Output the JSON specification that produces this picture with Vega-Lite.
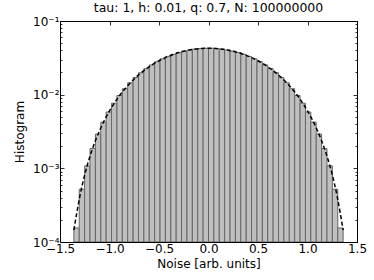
{
  "$schema": "https://vega.github.io/schema/vega-lite/v6.json",
  "autosize": {"type": "none"},
  "padding": {"left": 60, "top": 21, "right": 17, "bottom": 38},
  "width": 297,
  "height": 221,
  "title": {"text": "tau: 1, h: 0.01, q: 0.7, N: 100000000", "font": "DejaVu Sans", "fontSize": 12.5, "fontWeight": "normal", "color": "black", "offset": 1},
  "datasets": {
    "bins": [
      {"x0": -1.3600, "x1": -1.3056, "v": 0.000155},
      {"x0": -1.3056, "x1": -1.2512, "v": 0.00052},
      {"x0": -1.2512, "x1": -1.1968, "v": 0.00108},
      {"x0": -1.1968, "x1": -1.1424, "v": 0.00186},
      {"x0": -1.1424, "x1": -1.0880, "v": 0.00292},
      {"x0": -1.0880, "x1": -1.0336, "v": 0.00424},
      {"x0": -1.0336, "x1": -0.9792, "v": 0.00582},
      {"x0": -0.9792, "x1": -0.9248, "v": 0.00766},
      {"x0": -0.9248, "x1": -0.8704, "v": 0.00974},
      {"x0": -0.8704, "x1": -0.8160, "v": 0.01204},
      {"x0": -0.8160, "x1": -0.7616, "v": 0.01452},
      {"x0": -0.7616, "x1": -0.7072, "v": 0.01712},
      {"x0": -0.7072, "x1": -0.6528, "v": 0.01984},
      {"x0": -0.6528, "x1": -0.5984, "v": 0.02258},
      {"x0": -0.5984, "x1": -0.5440, "v": 0.02533},
      {"x0": -0.5440, "x1": -0.4896, "v": 0.02802},
      {"x0": -0.4896, "x1": -0.4352, "v": 0.03061},
      {"x0": -0.4352, "x1": -0.3808, "v": 0.03305},
      {"x0": -0.3808, "x1": -0.3264, "v": 0.03529},
      {"x0": -0.3264, "x1": -0.2720, "v": 0.03729},
      {"x0": -0.2720, "x1": -0.2176, "v": 0.03903},
      {"x0": -0.2176, "x1": -0.1632, "v": 0.04045},
      {"x0": -0.1632, "x1": -0.1088, "v": 0.04154},
      {"x0": -0.1088, "x1": -0.0544, "v": 0.04228},
      {"x0": -0.0544, "x1": 0.0000, "v": 0.04265},
      {"x0": 0.0000, "x1": 0.0544, "v": 0.04265},
      {"x0": 0.0544, "x1": 0.1088, "v": 0.04228},
      {"x0": 0.1088, "x1": 0.1632, "v": 0.04154},
      {"x0": 0.1632, "x1": 0.2176, "v": 0.04045},
      {"x0": 0.2176, "x1": 0.2720, "v": 0.03903},
      {"x0": 0.2720, "x1": 0.3264, "v": 0.03729},
      {"x0": 0.3264, "x1": 0.3808, "v": 0.03529},
      {"x0": 0.3808, "x1": 0.4352, "v": 0.03305},
      {"x0": 0.4352, "x1": 0.4896, "v": 0.03061},
      {"x0": 0.4896, "x1": 0.5440, "v": 0.02802},
      {"x0": 0.5440, "x1": 0.5984, "v": 0.02533},
      {"x0": 0.5984, "x1": 0.6528, "v": 0.02258},
      {"x0": 0.6528, "x1": 0.7072, "v": 0.01984},
      {"x0": 0.7072, "x1": 0.7616, "v": 0.01712},
      {"x0": 0.7616, "x1": 0.8160, "v": 0.01452},
      {"x0": 0.8160, "x1": 0.8704, "v": 0.01204},
      {"x0": 0.8704, "x1": 0.9248, "v": 0.00974},
      {"x0": 0.9248, "x1": 0.9792, "v": 0.00766},
      {"x0": 0.9792, "x1": 1.0336, "v": 0.00582},
      {"x0": 1.0336, "x1": 1.0880, "v": 0.00424},
      {"x0": 1.0880, "x1": 1.1424, "v": 0.00292},
      {"x0": 1.1424, "x1": 1.1968, "v": 0.00186},
      {"x0": 1.1968, "x1": 1.2512, "v": 0.00108},
      {"x0": 1.2512, "x1": 1.3056, "v": 0.00052},
      {"x0": 1.3056, "x1": 1.3600, "v": 0.000155}
    ],
    "curve": [
      {"x": -1.36, "f": 0.000145},
      {"x": -1.33, "f": 0.00025},
      {"x": -1.30, "f": 0.000414},
      {"x": -1.25, "f": 0.000821},
      {"x": -1.20, "f": 0.001417},
      {"x": -1.15, "f": 0.002226},
      {"x": -1.10, "f": 0.003258},
      {"x": -1.05, "f": 0.004527},
      {"x": -1.00, "f": 0.00602},
      {"x": -0.95, "f": 0.007729},
      {"x": -0.90, "f": 0.00965},
      {"x": -0.85, "f": 0.01174},
      {"x": -0.80, "f": 0.01399},
      {"x": -0.70, "f": 0.01883},
      {"x": -0.60, "f": 0.02388},
      {"x": -0.50, "f": 0.02884},
      {"x": -0.40, "f": 0.03339},
      {"x": -0.30, "f": 0.03727},
      {"x": -0.20, "f": 0.04022},
      {"x": -0.10, "f": 0.04207},
      {"x": 0.00, "f": 0.0427},
      {"x": 0.10, "f": 0.04207},
      {"x": 0.20, "f": 0.04022},
      {"x": 0.30, "f": 0.03727},
      {"x": 0.40, "f": 0.03339},
      {"x": 0.50, "f": 0.02884},
      {"x": 0.60, "f": 0.02388},
      {"x": 0.70, "f": 0.01883},
      {"x": 0.80, "f": 0.01399},
      {"x": 0.85, "f": 0.01174},
      {"x": 0.90, "f": 0.00965},
      {"x": 0.95, "f": 0.007729},
      {"x": 1.00, "f": 0.00602},
      {"x": 1.05, "f": 0.004527},
      {"x": 1.10, "f": 0.003258},
      {"x": 1.15, "f": 0.002226},
      {"x": 1.20, "f": 0.001417},
      {"x": 1.25, "f": 0.000821},
      {"x": 1.30, "f": 0.000414},
      {"x": 1.33, "f": 0.00025},
      {"x": 1.36, "f": 0.000145}
    ]
  },
  "resolve": {"axis": {"x": "independent", "y": "independent"}},
  "layer": [
    {
      "data": {"name": "bins"},
      "mark": {"type": "bar", "fill": "#bfbfbf", "stroke": "#666666", "strokeWidth": 1, "clip": true},
      "encoding": {
        "x": {"field": "x0", "type": "quantitative",
              "scale": {"domain": [-1.5, 1.5], "nice": false, "zero": false},
              "axis": {"orient": "bottom", "values": [-1.5, -1, -0.5, 0, 0.5, 1, 1.5],
                       "labelExpr": "replace(format(datum.value, '.1f'), '-', '\u2212')",
                       "tickSize": -4, "labelPadding": 5, "labelFlush": false, "labelOverlap": false,
                       "title": "Noise [arb. units]", "titlePadding": 4}},
        "x2": {"field": "x1"},
        "y": {"field": "v", "type": "quantitative",
              "scale": {"type": "log", "domain": [0.0001, 0.1], "nice": false},
              "axis": {"orient": "left", "values": [0.0001, 0.001, 0.01, 0.1],
                       "labelExpr": "datum.value < 0.0005 ? '10\u207b\u2074' : datum.value < 0.005 ? '10\u207b\u00b3' : datum.value < 0.05 ? '10\u207b\u00b2' : '10\u207b\u00b9'",
                       "tickSize": -4, "labelPadding": 5, "labelFlush": false, "labelOverlap": false,
                       "title": "Histogram", "titlePadding": 6}},
        "y2": {"datum": 0.0001}
      }
    },
    {
      "data": {"name": "curve"},
      "mark": {"type": "line", "color": "black", "strokeWidth": 1.5, "strokeDash": [4, 2.5], "interpolate": "monotone", "clip": true},
      "encoding": {
        "x": {"field": "x", "type": "quantitative", "axis": null},
        "y": {"field": "f", "type": "quantitative", "axis": null}
      }
    },
    {
      "data": {"name": "bins"},
      "mark": {"type": "rule", "opacity": 0},
      "encoding": {
        "y": {"field": "v", "type": "quantitative",
              "axis": {"orient": "left", "values": [0.0002, 0.0003, 0.0004, 0.0005, 0.0006, 0.0007, 0.0008, 0.0009, 0.002, 0.003, 0.004, 0.005, 0.006, 0.007, 0.008, 0.009, 0.02, 0.03, 0.04, 0.05, 0.06, 0.07, 0.08, 0.09],
                       "tickSize": -2, "labels": false, "title": null}}
      }
    },
    {
      "data": {"name": "bins"},
      "mark": {"type": "rule", "opacity": 0},
      "encoding": {
        "y": {"field": "v", "type": "quantitative",
              "axis": {"orient": "right", "values": [0.0002, 0.0003, 0.0004, 0.0005, 0.0006, 0.0007, 0.0008, 0.0009, 0.002, 0.003, 0.004, 0.005, 0.006, 0.007, 0.008, 0.009, 0.02, 0.03, 0.04, 0.05, 0.06, 0.07, 0.08, 0.09],
                       "tickSize": -2, "labels": false, "title": null}}
      }
    },
    {
      "data": {"name": "bins"},
      "mark": {"type": "rule", "opacity": 0},
      "encoding": {
        "y": {"field": "v", "type": "quantitative",
              "axis": {"orient": "right", "values": [0.0001, 0.001, 0.01, 0.1],
                       "tickSize": -4, "labels": false, "title": null}}
      }
    },
    {
      "data": {"name": "bins"},
      "mark": {"type": "rule", "opacity": 0},
      "encoding": {
        "x": {"field": "x0", "type": "quantitative",
              "axis": {"orient": "top", "values": [-1.5, -1, -0.5, 0, 0.5, 1, 1.5],
                       "tickSize": -4, "labels": false, "title": null}}
      }
    }
  ],
  "config": {
    "font": "DejaVu Sans",
    "view": {"stroke": "black", "strokeWidth": 1},
    "axis": {"labelFont": "DejaVu Sans", "labelFontSize": 12, "labelColor": "black",
             "titleFont": "DejaVu Sans", "titleFontSize": 12, "titleFontWeight": "normal", "titleColor": "black",
             "tickColor": "black", "tickWidth": 0.8, "domain": false, "grid": false}
  }
}
